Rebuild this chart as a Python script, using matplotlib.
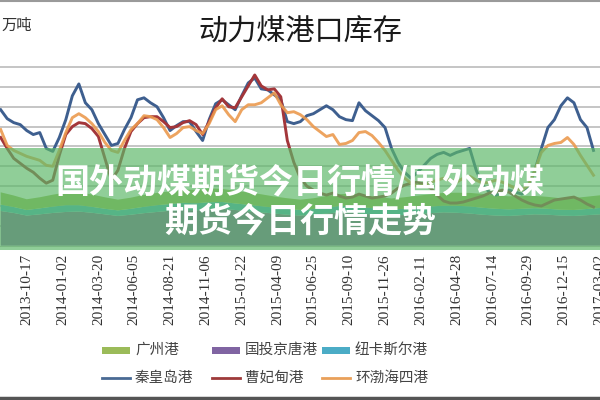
import matplotlib
matplotlib.use("Agg")
import matplotlib.pyplot as plt
import numpy as np
import pandas as pd
from matplotlib.patches import Rectangle
from matplotlib.lines import Line2D

plt.rcParams['font.family'] = ['Noto Sans CJK SC', 'DejaVu Sans']

# Datas (semanais, amostradas a cada 2 semanas para as linhas, 4 semanas para as áreas)
ref_day = pd.Timestamp("2013-10-17")
line_dates = pd.date_range("2013-08-22", periods=92, freq="14D")
area_dates = pd.date_range("2013-08-22", periods=47, freq="28D")
tick_dates = pd.date_range("2013-10-17", periods=17, freq="77D")

# Linhas (万吨)
qinhuangdao = [685, 640, 620, 610, 580, 560, 570, 490, 475, 545,
               635, 755, 815, 720, 685, 615, 560, 505, 515, 585,
               645, 735, 745, 720, 700, 645, 580, 605, 625, 625,
               575, 530, 635, 715, 735, 710, 685, 755, 820, 845,
               790, 785, 760, 735, 625, 615, 625, 655, 665, 685,
               705, 685, 650, 635, 630, 720, 680, 655, 630, 595,
               490, 420, 370, 340, 370, 405, 440, 460, 470, 455,
               470, 480, 490, 380, 305, 270, 255, 265, 280, 270,
               260, 290, 380, 490, 595, 635, 705, 745, 720, 635,
               595, 480]
caofeidian = [545, 490, 440, 415, 390, 370, 340, 315, 330, 455,
              560, 600, 620, 615, 590, 550, 440, 330, 380, 490,
              575, 615, 645, 650, 650, 625, 595, 600, 620, 630,
              610, 560, 625, 695, 740, 700, 695, 750, 805, 860,
              805, 785, 790, 750, 530, 420, 340, 300, 280, 265,
              255, 265, 250, 240, 245, 260, 250, 240, 245, 250,
              265, 290, 305, 315, 320, 310, 290, 255, 225, 215,
              215, 220, 230, 240, 250, 265, 270, 280, 270, 250,
              230, 215, 205, 200, 215, 230, 235, 240, 245, 230,
              210, 195]
huanbohai = [585, 505, 480, 465, 450, 440, 430, 405, 400, 480,
             570, 645, 665, 645, 615, 575, 520, 480, 470, 530,
             585, 615, 655, 650, 635, 595, 545, 565, 595, 600,
             580, 565, 615, 685, 705, 660, 625, 685, 710, 710,
             720, 745, 770, 710, 670, 675, 660, 635, 600, 575,
             550, 560, 510, 515, 530, 570, 575, 555, 520, 480,
             430, 380, 340, 315, 300, 305, 320, 330, 340, 330,
             320, 340, 350, 330, 315, 320, 330, 320, 305, 290,
             280, 305, 380, 470, 505, 515, 520, 545, 510, 455,
             405, 355]

# Áreas empilhadas (万吨)
guotou_jingtang = [175, 165, 152, 158, 165, 170, 172, 166, 158, 150,
                   156, 164, 170, 176, 180, 178, 184, 186, 180, 174,
                   168, 162, 156, 152, 156, 162, 168, 166, 160, 156,
                   152, 155, 160, 164, 168, 166, 162, 156, 152, 150,
                   154, 158, 156, 152, 150, 154, 158]
newcastle = [32, 30, 28, 30, 32, 34, 32, 30, 28, 28,
             30, 32, 34, 34, 36, 36, 35, 34, 33, 32,
             31, 30, 29, 28, 29, 30, 32, 33, 32, 31,
             30, 31, 32, 33, 34, 35, 36, 35, 34, 33,
             32, 31, 30, 29, 30, 31, 32]
guangzhou = [62, 58, 54, 56, 60, 64, 66, 62, 58, 54,
             56, 60, 62, 64, 66, 68, 70, 66, 64, 62,
             60, 56, 54, 52, 54, 58, 60, 62, 60, 58,
             56, 58, 60, 62, 64, 66, 68, 70, 68, 66,
             64, 62, 60, 58, 60, 62, 64]

x_line = ((line_dates - ref_day).days / 7).to_numpy()
x_area = ((area_dates - ref_day).days / 7).to_numpy()
x_ticks = ((tick_dates - ref_day).days / 7).to_numpy()
tick_labels = tick_dates.strftime("%Y-%m-%d")

fig = plt.figure(figsize=(6, 4), dpi=100)
ax = fig.add_axes([0, 0.38575, 1, 0.4516])

ax.stackplot(x_area, guotou_jingtang, newcastle, guangzhou,
             colors=["#8064a2", "#4bacc6", "#9bbb59"], lw=0)
ax.plot(x_line, qinhuangdao, color="#3e5f8f", lw=2.1)
ax.plot(x_line, caofeidian, color="#a3363a", lw=2.1)
ax.plot(x_line, huanbohai, color="#eb9a4f", lw=2.1, alpha=0.9)

ax.set_xlim(-27 / 3.29, 573 / 3.29)
ax.set_ylim(0, 910)
ax.set_yticks(np.arange(100, 1000, 100))
ax.yaxis.grid(True, color="#c0c0c0", lw=1.3)
ax.set_axisbelow(True)
ax.tick_params(axis="y", left=False, labelleft=False)
ax.set_xticks(x_ticks)
ax.set_xticklabels(tick_labels, rotation=90, fontsize=11,
                   family="Liberation Serif", color="#333333")
ax.tick_params(axis="x", length=0, pad=6)
for s in ["top", "left", "right"]:
    ax.spines[s].set_visible(False)
ax.spines["bottom"].set_color("#bbbbbb")

# Título e unidade
fig.text(0.5, 1 - 33 / 400, "动力煤港口库存", fontsize=21, ha="center",
         va="center", color="#1a1a1a")
fig.text(0.003, 1 - 25 / 400, "万吨", fontsize=11, ha="left", va="center",
         color="#333333")

# Legenda manual (duas linhas, três colunas)
area_items = [("广州港", "#9bbb59"), ("国投京唐港", "#8064a2"), ("纽卡斯尔港", "#4bacc6")]
line_items = [("秦皇岛港", "#4a6a94"), ("曹妃甸港", "#9e3a3a"), ("环渤海四港", "#e9a05a")]
col_x = [102, 212, 322]
for (name, c), cx in zip(area_items, col_x):
    y = 1 - 350 / 400
    fig.add_artist(Rectangle((cx / 600, y - 3.5 / 400), 28 / 600, 7 / 400,
                             transform=fig.transFigure, fc=c, ec="none"))
    fig.text((cx + 33) / 600, y, name, fontsize=10.5, va="center", color="#444444")
for (name, c), cx in zip(line_items, col_x):
    y = 1 - 378 / 400
    fig.add_artist(Line2D([cx / 600, (cx + 28) / 600], [y, y],
                          transform=fig.transFigure, color=c, lw=2))
    fig.text((cx + 33) / 600, y, name, fontsize=10.5, va="center", color="#444444")

# Moldura
fig.add_artist(Line2D([0, 1], [0.998, 0.998], transform=fig.transFigure,
                      color="#9a9a9a", lw=1.5))
fig.add_artist(Line2D([0, 1], [0.004, 0.004], transform=fig.transFigure,
                      color="#555555", lw=2.5))

# Faixa verde com texto
fig.add_artist(Rectangle((0, 150 / 400), 1, 102 / 400, transform=fig.transFigure,
                         fc="#5cb868", alpha=0.68, ec="none", zorder=10))
fig.text(0.5, 1 - 182 / 400, "国外动煤期货今日行情/国外动煤", fontsize=24.5,
         fontweight="bold", color="white", ha="center", va="center", zorder=11)
fig.text(0.5, 1 - 221 / 400, "期货今日行情走势", fontsize=24.5,
         fontweight="bold", color="white", ha="center", va="center", zorder=11)

fig.savefig("out.png", dpi=100)
